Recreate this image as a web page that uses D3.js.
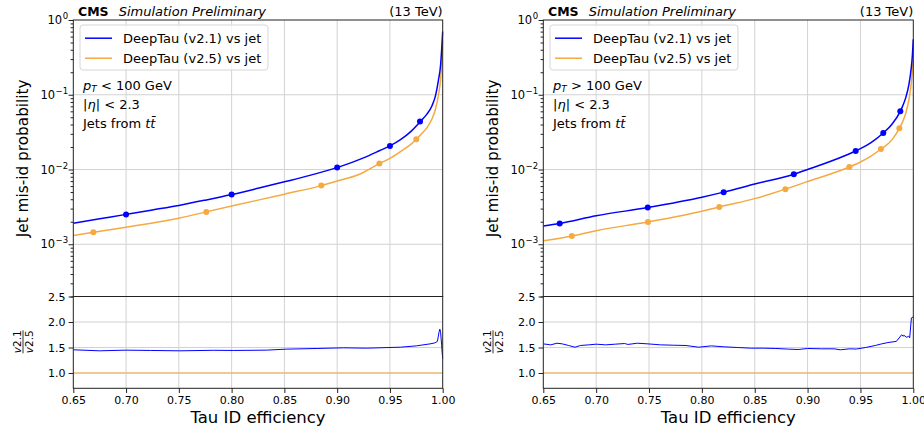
<!DOCTYPE html>
<html>
<head>
<meta charset="utf-8">
<script src="https://cdn.jsdelivr.net/npm/d3@7"></script>
<style>
  body { margin: 0; background: #fff; }
  svg { display: block; }
  text { font-family: "DejaVu Sans", sans-serif; fill: #000; }
</style>
</head>
<body>
<div id="wrapper"></div>
<script>
// Tau ID efficiency ticks (shared by both panels)
const effTicks = [0.65, 0.70, 0.75, 0.80, 0.85, 0.90, 0.95, 1.00]
const misidMajorTicks = [1e-3, 1e-2, 1e-1, 1]
const ratioTicks = [1.0, 1.5, 2.0, 2.5]
const seriesNames = ["DeepTau (v2.1) vs jet", "DeepTau (v2.5) vs jet"]

// pT < 100 GeV : [efficiency, mis-id probability]
const lowPtV21Curve = [
  [0.65, 1.91e-3], [0.675, 2.19e-3], [0.70, 2.51e-3], [0.725, 2.88e-3], [0.75, 3.31e-3],
  [0.775, 3.89e-3], [0.80, 4.62e-3], [0.825, 5.6e-3], [0.85, 6.84e-3], [0.875, 8.41e-3],
  [0.90, 1.06e-2], [0.925, 1.43e-2], [0.94, 1.78e-2], [0.95, 2.07e-2], [0.96, 2.51e-2],
  [0.97, 3.24e-2], [0.98, 4.57e-2], [0.985, 5.5e-2], [0.99, 7.2e-2], [0.993, 9.5e-2],
  [0.996, 0.158], [0.998, 0.25], [0.999, 0.40], [1.0, 0.70]
]
const lowPtV25Curve = [
  [0.65, 1.31e-3], [0.669, 1.45e-3], [0.70, 1.69e-3], [0.75, 2.23e-3], [0.776, 2.71e-3],
  [0.80, 3.24e-3], [0.85, 4.68e-3], [0.885, 6.09e-3], [0.90, 7.0e-3], [0.92, 8.5e-3],
  [0.94, 1.20e-2], [0.95, 1.41e-2], [0.96, 1.74e-2], [0.97, 2.19e-2], [0.975, 2.54e-2],
  [0.98, 3.0e-2], [0.985, 3.6e-2], [0.99, 4.8e-2], [0.993, 6.3e-2], [0.996, 0.10],
  [0.998, 0.16], [0.999, 0.25], [1.0, 0.55]
]
const lowPtV21Points = [[0.70, 2.51e-3], [0.80, 4.62e-3], [0.90, 1.06e-2], [0.95, 2.07e-2], [0.9785, 4.37e-2]]
const lowPtV25Points = [[0.669, 1.45e-3], [0.776, 2.71e-3], [0.885, 6.09e-3], [0.94, 1.20e-2], [0.975, 2.54e-2]]
const lowPtRatio = [
  [0.65, 1.455], [0.675, 1.435], [0.70, 1.448], [0.723, 1.442], [0.751, 1.435],
  [0.783, 1.445], [0.802, 1.442], [0.833, 1.448], [0.852, 1.468], [0.881, 1.481],
  [0.906, 1.494], [0.928, 1.487], [0.96, 1.506], [0.975, 1.532], [0.988, 1.571],
  [0.9925, 1.59], [0.995, 1.62], [0.9965, 1.80], [0.9973, 1.86], [0.998, 1.80],
  [0.999, 1.55], [0.9995, 1.40], [1.0, 1.28]
]

// pT > 100 GeV
const highPtV21Curve = [
  [0.65, 1.75e-3], [0.6655, 1.89e-3], [0.70, 2.40e-3], [0.7488, 3.10e-3], [0.80, 4.26e-3],
  [0.8206, 4.98e-3], [0.85, 6.38e-3], [0.887, 8.65e-3], [0.90, 1.0e-2], [0.9455, 1.77e-2],
  [0.95, 1.9e-2], [0.96, 2.29e-2], [0.9716, 3.08e-2], [0.98, 4.07e-2], [0.9877, 6.0e-2],
  [0.99, 7.1e-2], [0.993, 9.3e-2], [0.996, 0.141], [0.998, 0.224], [0.999, 0.316], [1.0, 0.55]
]
const highPtV25Curve = [
  [0.65, 1.11e-3], [0.677, 1.29e-3], [0.70, 1.52e-3], [0.749, 1.99e-3], [0.80, 2.77e-3],
  [0.8165, 3.16e-3], [0.85, 4.08e-3], [0.879, 5.46e-3], [0.90, 6.9e-3], [0.9395, 1.08e-2],
  [0.95, 1.26e-2], [0.96, 1.51e-2], [0.9694, 1.88e-2], [0.98, 2.51e-2], [0.9868, 3.56e-2],
  [0.99, 4.37e-2], [0.993, 5.75e-2], [0.996, 8.9e-2], [0.998, 0.141], [0.999, 0.20], [1.0, 0.29]
]
const highPtV21Points = [[0.6655, 1.89e-3], [0.7488, 3.10e-3], [0.8206, 4.98e-3], [0.887, 8.65e-3], [0.9455, 1.77e-2], [0.9716, 3.08e-2], [0.9877, 6.0e-2]]
const highPtV25Points = [[0.677, 1.29e-3], [0.749, 1.99e-3], [0.8165, 3.16e-3], [0.879, 5.46e-3], [0.9395, 1.08e-2], [0.9694, 1.88e-2], [0.9868, 3.56e-2]]
const highPtRatio = [
  [0.65, 1.571], [0.657, 1.552], [0.663, 1.584], [0.668, 1.571], [0.674, 1.539],
  [0.68, 1.506], [0.685, 1.539], [0.693, 1.552], [0.70, 1.565], [0.709, 1.552],
  [0.718, 1.565], [0.727, 1.578], [0.730, 1.56], [0.739, 1.584], [0.749, 1.571],
  [0.761, 1.552], [0.773, 1.545], [0.785, 1.539], [0.797, 1.506], [0.809, 1.532],
  [0.821, 1.513], [0.834, 1.50], [0.846, 1.487], [0.858, 1.487], [0.870, 1.481],
  [0.882, 1.468], [0.891, 1.461], [0.90, 1.481], [0.913, 1.474], [0.925, 1.474],
  [0.931, 1.455], [0.94, 1.474], [0.946, 1.47], [0.955, 1.50], [0.964, 1.539],
  [0.97, 1.571], [0.976, 1.597], [0.984, 1.62], [0.989, 1.75], [0.9905, 1.72],
  [0.991, 1.74], [0.9938, 1.70], [0.9955, 1.72], [0.9966, 1.69], [0.9982, 2.08], [1.0, 2.10]
]
const refRatio = [[0.65, 1.0], [1.0, 1.0]]

const colors = { v21: "#0000ff", v25: "#f5a940" }

const dims = { width: 924, height: 432, top: 20, split: 296.5, bottom: 388.3 }

const panels = [
  { id: "low", left: 73.3, right: 442.7, cut: "<",
    v21: lowPtV21Curve, v25: lowPtV25Curve, v21p: lowPtV21Points, v25p: lowPtV25Points, ratio: lowPtRatio },
  { id: "high", left: 543.3, right: 913.3, cut: ">",
    v21: highPtV21Curve, v25: highPtV25Curve, v21p: highPtV21Points, v25p: highPtV25Points, ratio: highPtRatio },
]

const svg = d3.select("#wrapper")
  .append("svg")
  .attr("width", dims.width)
  .attr("height", dims.height)

function drawPanel(p) {
  const x = d3.scaleLinear().domain([0.65, 1.0]).range([p.left, p.right])
  const y = d3.scaleLog().domain([2e-4, 1]).range([dims.split, dims.top])
  const yr = d3.scaleLinear().domain([0.7, 2.5]).range([dims.bottom, dims.split])
  const g = svg.append("g")

  // clip paths
  const defs = svg.append("defs")
  defs.append("clipPath").attr("id", "clipTop-" + p.id).append("rect")
    .attr("x", p.left).attr("y", dims.top - 1)
    .attr("width", p.right - p.left + 1).attr("height", dims.split - dims.top + 1)
  defs.append("clipPath").attr("id", "clipRatio-" + p.id).append("rect")
    .attr("x", p.left).attr("y", dims.split)
    .attr("width", p.right - p.left + 1).attr("height", dims.bottom - dims.split)

  // grid
  const grid = g.append("g").attr("stroke", "#d2d2d2").attr("stroke-width", 1)
  grid.selectAll("line.v").data(effTicks.slice(1, -1)).join("line")
    .attr("x1", d => x(d)).attr("x2", d => x(d))
    .attr("y1", dims.top).attr("y2", dims.bottom)
  grid.selectAll("line.h").data(misidMajorTicks.slice(0, -1)).join("line")
    .attr("x1", p.left).attr("x2", p.right)
    .attr("y1", d => y(d)).attr("y2", d => y(d))
  grid.selectAll("line.r").data(ratioTicks.slice(0, -1)).join("line")
    .attr("x1", p.left).attr("x2", p.right)
    .attr("y1", d => yr(d)).attr("y2", d => yr(d))

  // curves
  const line = d3.line().x(d => x(d[0])).y(d => y(d[1])).curve(d3.curveMonotoneX)
  const top = g.append("g").attr("clip-path", `url(#clipTop-${p.id})`)
  top.append("path").datum(p.v25).attr("d", line)
    .attr("fill", "none").attr("stroke", colors.v25).attr("stroke-width", 1.5)
  top.append("path").datum(p.v21).attr("d", line)
    .attr("fill", "none").attr("stroke", colors.v21).attr("stroke-width", 1.5)
  top.selectAll("circle.v25").data(p.v25p).join("circle")
    .attr("cx", d => x(d[0])).attr("cy", d => y(d[1])).attr("r", 3).attr("fill", colors.v25)
  top.selectAll("circle.v21").data(p.v21p).join("circle")
    .attr("cx", d => x(d[0])).attr("cy", d => y(d[1])).attr("r", 3).attr("fill", colors.v21)

  // ratio
  const rline = d3.line().x(d => x(d[0])).y(d => yr(d[1]))
  const rg = g.append("g").attr("clip-path", `url(#clipRatio-${p.id})`)
  rg.append("path").datum(refRatio).attr("d", rline)
    .attr("fill", "none").attr("stroke", colors.v25).attr("stroke-width", 1)
  rg.append("path").datum(p.ratio).attr("d", rline)
    .attr("fill", "none").attr("stroke", colors.v21).attr("stroke-width", 1)

  // frames
  g.append("rect").attr("x", p.left).attr("y", dims.top)
    .attr("width", p.right - p.left).attr("height", dims.split - dims.top)
    .attr("fill", "none").attr("stroke", "#222").attr("stroke-width", 1)
  g.append("rect").attr("x", p.left).attr("y", dims.split)
    .attr("width", p.right - p.left).attr("height", dims.bottom - dims.split)
    .attr("fill", "none").attr("stroke", "#222").attr("stroke-width", 1)

  // x axis
  const xAxis = g.append("g").attr("transform", `translate(0,${dims.bottom})`)
    .call(d3.axisBottom(x).tickValues(effTicks).tickFormat(d3.format(".2f")).tickSize(4.7).tickPadding(3.2))
  xAxis.select(".domain").remove()
  xAxis.attr("font-family", null).attr("font-size", 11)
  xAxis.selectAll(".tick line").attr("stroke", "#222")

  // log y axis
  const minor = []
  for (let e = -4; e <= -1; e++) for (let k = 2; k <= 9; k++) {
    const v = k * Math.pow(10, e)
    if (v >= 2e-4 && v < 1) minor.push(v)
  }
  const yMinor = g.append("g").attr("transform", `translate(${p.left},0)`)
    .call(d3.axisLeft(y).tickValues(minor).tickFormat("").tickSize(2.7))
  yMinor.select(".domain").remove()
  yMinor.selectAll(".tick line").attr("stroke", "#222")
  const yAxis = g.append("g").attr("transform", `translate(${p.left},0)`)
    .call(d3.axisLeft(y).tickValues(misidMajorTicks).tickSize(4.7).tickPadding(0.5))
  yAxis.select(".domain").remove()
  yAxis.attr("font-family", null).attr("font-size", 11.5)
  yAxis.selectAll(".tick line").attr("stroke", "#222")
  yAxis.selectAll(".tick text").text(null).each(function (d) {
    const t = d3.select(this)
    const e = Math.round(Math.log10(d))
    t.append("tspan").text("10")
    t.append("tspan").attr("dy", -5).attr("font-size", 8.5).attr("dx", 0.5)
      .text(e === 0 ? "0" : "\u2212" + (-e))
  })

  // ratio y axis
  const rAxis = g.append("g").attr("transform", `translate(${p.left},0)`)
    .call(d3.axisLeft(yr).tickValues(ratioTicks).tickFormat(d3.format(".1f")).tickSize(4.7).tickPadding(3))
  rAxis.select(".domain").remove()
  rAxis.attr("font-family", null).attr("font-size", 11)
  rAxis.selectAll(".tick line").attr("stroke", "#222")

  // axis labels
  g.append("text").attr("x", (p.left + p.right) / 2).attr("y", 423)
    .attr("text-anchor", "middle").attr("font-size", 16.5).text("Tau ID efficiency")
  g.append("text")
    .attr("transform", `translate(${p.left - 45.5},${(dims.top + dims.split) / 2}) rotate(-90)`)
    .attr("text-anchor", "middle").attr("font-size", 15.3).text("Jet mis-id probability")
  const frac = g.append("g")
    .attr("transform", `translate(${p.left - 50.3},${(dims.split + dims.bottom) / 2 - 0.6}) rotate(-90)`)
  frac.append("text").attr("y", -2.5).attr("text-anchor", "middle").attr("font-size", 10.5)
    .call(t => { t.append("tspan").attr("font-style", "italic").text("v"); t.append("tspan").text("2.1") })
  frac.append("text").attr("y", 10).attr("text-anchor", "middle").attr("font-size", 10.5)
    .call(t => { t.append("tspan").attr("font-style", "italic").text("v"); t.append("tspan").text("2.5") })
  frac.append("line").attr("x1", -11.5).attr("x2", 11.5).attr("y1", 0).attr("y2", 0)
    .attr("stroke", "#000").attr("stroke-width", 0.8)

  // header
  const head = g.append("text").attr("x", p.left + 4.7).attr("y", 15.5).attr("font-size", 13)
  head.append("tspan").attr("font-weight", "bold").attr("font-size", 12.5).text("CMS")
  head.append("tspan").attr("font-style", "italic").attr("dx", 10).text("Simulation Preliminary")
  g.append("text").attr("x", p.right).attr("y", 15.5).attr("text-anchor", "end")
    .attr("font-size", 13).text("(13 TeV)")

  // legend
  const leg = g.append("g").attr("transform", `translate(${p.left},0)`)
  leg.append("rect").attr("x", 6.7).attr("y", 25).attr("width", 188).attr("height", 45).attr("rx", 3)
    .attr("fill", "#fff").attr("fill-opacity", 0.8).attr("stroke", "#d6d6d6").attr("stroke-width", 1)
  const rows = [colors.v21, colors.v25]
  rows.forEach((c, i) => {
    const yy = 38.2 + i * 20
    leg.append("line").attr("x1", 11.7).attr("x2", 38.7).attr("y1", yy).attr("y2", yy)
      .attr("stroke", c).attr("stroke-width", 1.5)
    leg.append("text").attr("x", 49.7).attr("y", yy + 4.6).attr("font-size", 13).text(seriesNames[i])
  })

  // annotations
  const ann = g.append("g").attr("transform", `translate(${p.left + 9.7},0)`).attr("font-size", 13)
  const t1 = ann.append("text").attr("y", 89.5)
  t1.append("tspan").attr("font-style", "italic").text("p")
  t1.append("tspan").attr("font-style", "italic").attr("font-size", 9).attr("dy", 2.5).text("T")
  t1.append("tspan").attr("dy", -2.5).text(` ${p.cut} 100 GeV`)
  const t2 = ann.append("text").attr("y", 108.7)
  t2.append("tspan").text("|")
  t2.append("tspan").attr("font-style", "italic").text("\u03b7")
  t2.append("tspan").text("| < 2.3")
  const t3 = ann.append("text").attr("y", 127.7)
  t3.append("tspan").text("Jets from ")
  t3.append("tspan").attr("font-style", "italic").text("t\u0074\u0304")
}

panels.forEach(drawPanel)
</script>
</body>
</html>
